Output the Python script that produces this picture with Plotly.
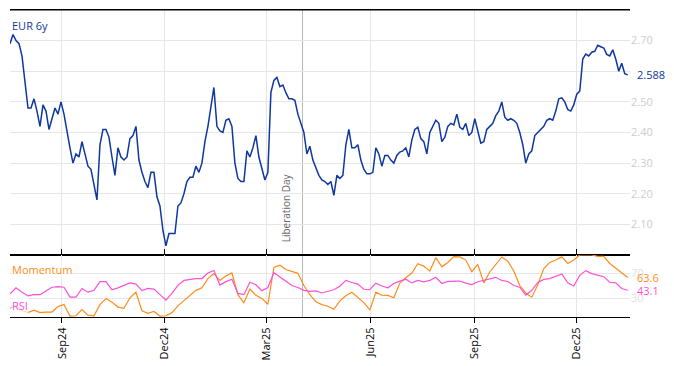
import pandas as pd
import plotly.graph_objects as go

START = "2024-07-17"
END = "2026-01-15"

eur6y = [
    2.69, 2.72, 2.70, 2.69, 2.65, 2.57, 2.48, 2.48, 2.51, 2.47,
    2.42, 2.49, 2.47, 2.41, 2.45, 2.48, 2.46, 2.50, 2.46, 2.40,
    2.35, 2.30, 2.33, 2.32, 2.37, 2.33, 2.29, 2.28, 2.23, 2.18,
    2.36, 2.41, 2.41, 2.385, 2.32, 2.26, 2.35, 2.32, 2.31, 2.32,
    2.38, 2.39, 2.42, 2.31, 2.27, 2.24, 2.22, 2.27, 2.27, 2.19,
    2.16, 2.08, 2.03, 2.07, 2.07, 2.07, 2.16, 2.17, 2.20, 2.24,
    2.254, 2.254, 2.29, 2.27, 2.30, 2.37, 2.42, 2.49, 2.547, 2.42,
    2.405, 2.40, 2.44, 2.445, 2.42, 2.30, 2.25, 2.24, 2.24, 2.34,
    2.32, 2.35, 2.39, 2.32, 2.28, 2.245, 2.27, 2.53, 2.57, 2.58,
    2.55, 2.555, 2.53, 2.51, 2.51, 2.505, 2.46, 2.43, 2.40, 2.33,
    2.355, 2.31, 2.287, 2.26, 2.245, 2.24, 2.23, 2.24, 2.195, 2.26,
    2.25, 2.26, 2.36, 2.41, 2.35, 2.35, 2.36, 2.31, 2.28, 2.265,
    2.265, 2.27, 2.35, 2.33, 2.29, 2.325, 2.325, 2.31, 2.30, 2.325,
    2.336, 2.34, 2.35, 2.32, 2.375, 2.41, 2.417, 2.38, 2.37, 2.33,
    2.40, 2.42, 2.44, 2.43, 2.37, 2.385, 2.42, 2.43, 2.425, 2.46,
    2.417, 2.41, 2.43, 2.39, 2.40, 2.445, 2.40, 2.365, 2.37, 2.41,
    2.42, 2.43, 2.455, 2.47, 2.50, 2.45, 2.44, 2.445, 2.44, 2.43,
    2.40, 2.36, 2.30, 2.33, 2.34, 2.39, 2.40, 2.41, 2.42, 2.44,
    2.445, 2.44, 2.47, 2.51, 2.513, 2.50, 2.475, 2.47, 2.49, 2.525,
    2.535, 2.64, 2.656, 2.65, 2.662, 2.665, 2.685, 2.68, 2.676, 2.655,
    2.65, 2.67, 2.64, 2.60, 2.626, 2.592, 2.588,
]

rsi = [
    37, 47, 40, 34, 36, 36, 42, 48, 49, 48,
    32, 32, 46, 40, 43, 57, 57, 44, 47, 51,
    55, 53, 42.5, 46, 45, 36, 27, 38, 51, 59,
    61, 62, 62, 71, 75, 51.5, 57, 61, 38, 36,
    56, 52, 42.5, 47.5, 71.5, 64.4, 57, 50.7, 47.5, 43,
    41.4, 42, 38.7, 41.4, 44, 49.6, 59, 55.7, 53, 44.7,
    44, 54.6, 50, 47, 54, 57.8, 61, 55, 59, 56.8,
    59, 64, 54, 57.3, 57.3, 58, 54.6, 52.4, 56.8, 59,
    60.6, 64, 59, 57.3, 50.7, 48, 35.4, 43, 55.7, 60.6,
    62, 66, 69.3, 55, 50, 67.2, 74.8, 70, 67.7, 65,
    56, 55, 46, 43.1,
]

momentum = [
    14, 19, 10, 7, 11, 7, 8, 8, 17, 20,
    1.5, 2, 12, 3, 2, 20, 30, 24, 16, 14,
    31, 40, 10, 6, 9, 1.5, 2, 7, 18, 26,
    35, 43, 47, 62, 70, 59, 66, 71, 36, 23,
    45, 35, 30, 20.6, 80, 83.6, 76.5, 73, 70.4, 50.7,
    36, 24.4, 20, 17.3, 12.4, 26, 34.3, 40, 31.5, 23.3,
    11.3, 39.8, 35.4, 34.8, 31, 54.6, 63.3, 71, 85.8, 82,
    74, 95.7, 80.9, 88, 97.3, 96.8, 91.8, 73.2, 84.7, 55,
    72.6, 85.2, 96.8, 90, 74.3, 50.7, 38.7, 32, 52, 78.1,
    88, 92, 97, 86.3, 92, 100, 100, 100, 97.8, 97.8,
    86.3, 79.2, 71.5, 63.6,
]

main_ticks = [2.10, 2.20, 2.30, 2.40, 2.50, 2.60, 2.70]
main_ticktext = ["2.10", "2.20", "2.30", "2.40", "2.50", "", "2.70"]
ind_ticks = [30, 70]
event_date = "2025-04-02"
event_label = "Liberation Day"

BLUE = "#0f37a0"
ORANGE = "#ff8c1a"
PINK = "#ff4fd8"
GRID = "#e6e6e6"
TICKGRAY = "#cdcdcd"

d_main = pd.date_range(START, END, periods=len(eur6y))
d_ind = pd.date_range(START, END, periods=len(rsi))

fig = go.Figure()
fig.add_trace(go.Scatter(x=d_main, y=eur6y, mode="lines", line=dict(color=BLUE, width=1.5),
                         xaxis="x", yaxis="y", showlegend=False, hoverinfo="skip"))
fig.add_trace(go.Scatter(x=d_ind, y=momentum, mode="lines", line=dict(color=ORANGE, width=1.2),
                         xaxis="x2", yaxis="y2", showlegend=False, hoverinfo="skip"))
fig.add_trace(go.Scatter(x=d_ind, y=rsi, mode="lines", line=dict(color=PINK, width=1.2),
                         xaxis="x2", yaxis="y2", showlegend=False, hoverinfo="skip"))

split = 0.202
xr = ["2024-07-17", "2026-01-17"]

fig.update_layout(
    width=674, height=366,
    margin=dict(l=10, r=44, t=10, b=49),
    paper_bgcolor="white", plot_bgcolor="white",
    font=dict(family="Open Sans, sans-serif", size=11, color="black"),
    xaxis=dict(domain=[0, 1], anchor="y", range=xr, showline=True, linecolor="black",
               linewidth=1, mirror=True, showgrid=True, gridcolor=GRID, dtick="M3",
               tick0="2024-09-01", showticklabels=False, ticks="", zeroline=False,
               automargin=False),
    yaxis=dict(domain=[split, 1], anchor="x", side="right", range=[2.0, 2.8],
               tickvals=main_ticks, ticktext=main_ticktext,
               tickfont=dict(color=TICKGRAY, size=11), showgrid=True, gridcolor=GRID,
               zeroline=False, showline=False, ticks="", automargin=False),
    xaxis2=dict(domain=[0, 1], anchor="y2", range=xr, matches="x", showline=True,
                linecolor="black", linewidth=1, mirror="ticks", ticks="outside", ticklen=5,
                tickcolor="black", tickangle=-90, tickformat="%b%y", dtick="M3",
                tick0="2024-09-01", showgrid=True, gridcolor=GRID, zeroline=False,
                tickfont=dict(size=11, color="black"), automargin=False),
    yaxis2=dict(domain=[0, split], anchor="x2", side="right", range=[0, 100],
                tickvals=ind_ticks, tickfont=dict(color="#e0e0e0", size=11),
                showgrid=True, gridcolor=GRID, zeroline=False, showline=False, ticks="",
                automargin=False),
)

# top border of the main panel
fig.add_shape(type="line", xref="paper", yref="paper", x0=0, x1=1, y0=1, y1=1,
              line=dict(color="black", width=1), layer="above")

fig.add_shape(type="line", x0=event_date, x1=event_date, xref="x", yref="paper",
              y0=0, y1=1, line=dict(color="#b8b8b8", width=1), layer="below")

fig.add_annotation(x=event_date, xref="x", y=2.035, yref="y", text=event_label,
                   textangle=-90, xanchor="right", yanchor="bottom", showarrow=False,
                   xshift=-8, font=dict(size=10, color="#666666"))

fig.add_annotation(x=0, xref="paper", y=1, yref="paper", text="EUR 6y", showarrow=False,
                   xanchor="left", yanchor="top", xshift=1, yshift=-7,
                   font=dict(size=11, color=BLUE), bgcolor="rgba(255,255,255,0.7)", borderpad=0)
fig.add_annotation(x=0, xref="paper", y=split, yref="paper", text="Momentum", showarrow=False,
                   xanchor="left", yanchor="top", xshift=1, yshift=-6,
                   font=dict(size=11, color=ORANGE), bgcolor="rgba(255,255,255,0.7)", borderpad=0)
fig.add_annotation(x=0, xref="paper", y=19, yref="y2", text="RSI", showarrow=False,
                   xanchor="left", yanchor="middle", xshift=1,
                   font=dict(size=11, color=PINK), bgcolor="rgba(255,255,255,0.7)", borderpad=0)

fig.add_annotation(x=1, xref="paper", y=eur6y[-1], yref="y", text=f"{eur6y[-1]:.3f}",
                   showarrow=False, xanchor="left", yanchor="middle", xshift=5,
                   font=dict(size=11, color=BLUE))
fig.add_annotation(x=1, xref="paper", y=momentum[-1], yref="y2", text=f"{momentum[-1]:.1f}",
                   showarrow=False, xanchor="left", yanchor="middle", xshift=5,
                   font=dict(size=11, color=ORANGE))
fig.add_annotation(x=1, xref="paper", y=rsi[-1], yref="y2", text=f"{rsi[-1]:.1f}",
                   showarrow=False, xanchor="left", yanchor="middle", xshift=5,
                   font=dict(size=11, color=PINK))

fig.write_html("out.html", config={"displayModeBar": False},
               post_script="document.body.style.margin='0';")
